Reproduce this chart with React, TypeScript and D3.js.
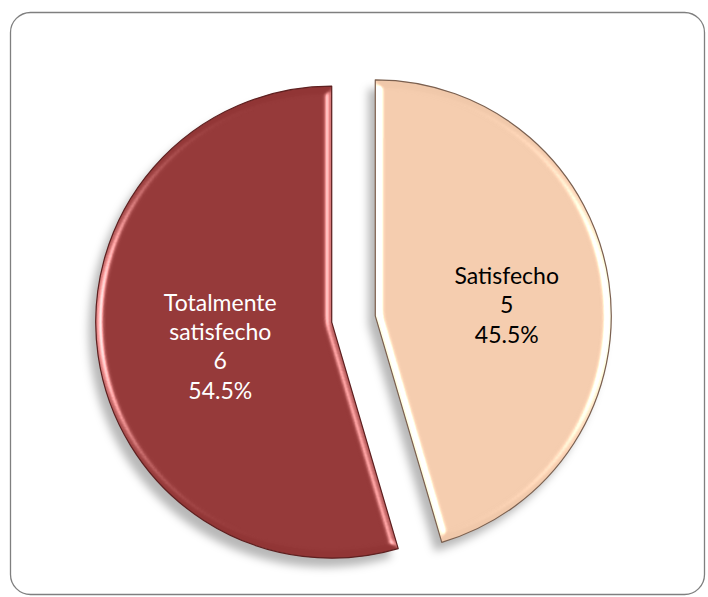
import React, { useEffect, useRef } from 'react';
import * as d3 from 'd3';

// chart data
const labels = ['Satisfecho', 'Totalmente satisfecho'];
const labelLines = [['Satisfecho'], ['Totalmente', 'satisfecho']];
const counts = [5, 6];
const colors = ['#F0C8AA', '#913535'];
const outlines = ['#7a6050', '#5e2020'];
const textColors = ['#000000', '#ffffff'];

interface Slice {
  label: string;
  lines: string[];
  value: number;
  idx: number;
}

const App: React.FC = () => {
  const svgRef = useRef<SVGSVGElement>(null);

  useEffect(() => {
    if (!svgRef.current) return;
    const svg = d3.select(svgRef.current);
    svg.selectAll('*').remove();

    const W = 708;
    const H = 597;
    svg.attr('width', W).attr('height', H);

    const defs = svg.append('defs');

    // drop shadow
    const shadow = defs.append('filter').attr('id', 'shadow')
      .attr('x', '-20%').attr('y', '-20%').attr('width', '140%').attr('height', '140%');
    shadow.append('feGaussianBlur').attr('in', 'SourceAlpha').attr('stdDeviation', 4).attr('result', 'b');
    shadow.append('feOffset').attr('in', 'b').attr('dx', -7).attr('dy', 9).attr('result', 'o');
    shadow.append('feFlood').attr('flood-color', '#000').attr('flood-opacity', 0.28).attr('result', 'f');
    shadow.append('feComposite').attr('in', 'f').attr('in2', 'o').attr('operator', 'in');

    // bevel look
    const bevel = defs.append('filter').attr('id', 'bevel')
      .attr('color-interpolation-filters', 'sRGB')
      .attr('x', '-10%').attr('y', '-10%').attr('width', '120%').attr('height', '120%');
    bevel.append('feGaussianBlur').attr('in', 'SourceAlpha').attr('stdDeviation', 4).attr('result', 'blur');
    const s1 = bevel.append('feSpecularLighting').attr('in', 'blur')
      .attr('surfaceScale', 6).attr('specularConstant', 1.0).attr('specularExponent', 25)
      .attr('lighting-color', '#ffffff').attr('result', 'spec1');
    s1.append('feDistantLight').attr('azimuth', 180).attr('elevation', 25);
    const s2 = bevel.append('feSpecularLighting').attr('in', 'blur')
      .attr('surfaceScale', 6).attr('specularConstant', 0.8).attr('specularExponent', 25)
      .attr('lighting-color', '#ffffff').attr('result', 'spec2');
    s2.append('feDistantLight').attr('azimuth', 0).attr('elevation', 25);
    bevel.append('feComposite').attr('in', 'spec1').attr('in2', 'spec2')
      .attr('operator', 'arithmetic').attr('k2', 1).attr('k3', 1).attr('result', 'spec');
    bevel.append('feComposite').attr('in', 'spec').attr('in2', 'SourceAlpha')
      .attr('operator', 'in').attr('result', 'specIn');
    bevel.append('feComposite').attr('in', 'SourceGraphic').attr('in2', 'specIn')
      .attr('operator', 'arithmetic').attr('k1', 0).attr('k2', 1).attr('k3', 0.7).attr('k4', 0);

    // chart border
    svg.append('rect')
      .attr('x', 10.5).attr('y', 12.5)
      .attr('width', 694).attr('height', 582)
      .attr('rx', 20).attr('ry', 20)
      .attr('fill', '#fff')
      .attr('stroke', '#7f7f7f')
      .attr('stroke-width', 1.3);

    const data: Slice[] = counts.map((v, i) => ({ label: labels[i], lines: labelLines[i], value: v, idx: i }));
    const total = d3.sum(counts);

    const cx = 353.5;
    const cy = 319;
    const r = 236;
    const explode = 22;

    const pie = d3.pie<Slice>().sort(null).value(d => d.value).startAngle(0).endAngle(2 * Math.PI);
    const arcs = pie(data);
    const arc = d3.arc<d3.PieArcDatum<Slice>>().innerRadius(0).outerRadius(r);
    const labelArc = d3.arc<d3.PieArcDatum<Slice>>().innerRadius(r * 0.52).outerRadius(r * 0.52);

    const offset = (a: d3.PieArcDatum<Slice>) => {
      const m = (a.startAngle + a.endAngle) / 2;
      return [Math.sin(m) * explode, -Math.cos(m) * explode];
    };

    const g = svg.append('g').attr('transform', `translate(${cx},${cy})`);

    // shadows
    g.append('g').attr('filter', 'url(#shadow)')
      .selectAll('path')
      .data(arcs)
      .join('path')
      .attr('transform', d => `translate(${offset(d)[0]},${offset(d)[1]})`)
      .attr('d', arc)
      .attr('fill', '#000');

    // slices
    const slices = g.selectAll('g.slice')
      .data(arcs)
      .join('g')
      .attr('class', 'slice')
      .attr('transform', d => `translate(${offset(d)[0]},${offset(d)[1]})`);

    slices.append('path')
      .attr('d', arc)
      .attr('fill', d => colors[d.data.idx])
      .attr('filter', 'url(#bevel)');

    slices.append('path')
      .attr('d', arc)
      .attr('fill', 'none')
      .attr('stroke', d => outlines[d.data.idx])
      .attr('stroke-width', 1.2)
      .attr('stroke-linejoin', 'round');

    // labels (nudged slightly right/down like Excel's placement)
    const lineH = 29.3;
    const nudgeX = 10;
    const nudgeY = 15;
    slices.each(function (d) {
      const [lx0, ly0] = labelArc.centroid(d);
      const lx = lx0 + nudgeX;
      const ly = ly0 + nudgeY;
      const lines = [...d.data.lines, String(d.data.value), d3.format('.1%')(d.data.value / total)];
      const top = ly - ((lines.length - 1) * lineH) / 2;
      const t = d3.select(this).append('text')
        .attr('text-anchor', 'middle')
        .attr('font-family', 'Lato, "Open Sans", sans-serif')
        .attr('font-size', 23)
        .attr('fill', textColors[d.data.idx]);
      lines.forEach((ln, i) => {
        t.append('tspan')
          .attr('x', lx)
          .attr('y', top + i * lineH)
          .text(ln);
      });
    });
  }, []);

  return (
    <svg
      ref={svgRef}
      style={{ position: 'absolute', left: 0, top: 0, display: 'block' }}
    />
  );
};

export default App;
